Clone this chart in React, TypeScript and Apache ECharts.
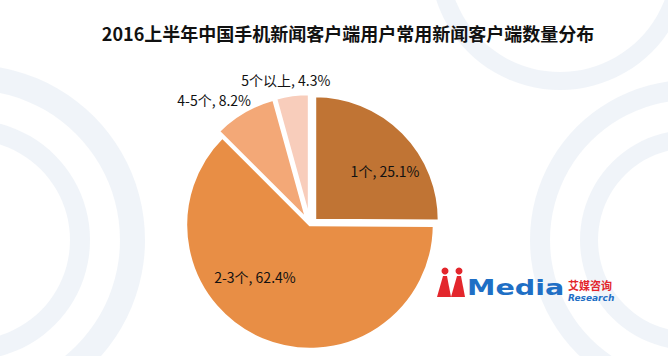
import React, { useEffect, useRef } from "react";
import * as echarts from "echarts";

const TITLE = "2016上半年中国手机新闻客户端用户常用新闻客户端数量分布";
const categories = ["1个", "2-3个", "4-5个", "5个以上"];
const values = [25.1, 62.4, 8.2, 4.3];
const colors = ["#C07434", "#E88E45", "#F3A877", "#F8CDBB"];
const exploded = [true, false, true, true];
const insideLabel = [true, true, false, false];
const labelShift: [number, number][] = [[24, -3], [-30, -8], [12, -12], [43, -15]];

export default function App() {
  const ref = useRef<HTMLDivElement>(null);
  useEffect(() => {
    if (!ref.current) return;
    const chart = echarts.init(ref.current, undefined, { renderer: "svg" });
    const ringColor = "rgba(226,234,243,0.5)";
    const rings = [
      { cx: -30, cy: 240, r: 175, r0: 150 },
      { cx: -30, cy: 240, r: 120, r0: 100 },
      { cx: 690, cy: 240, r: 160, r0: 140 },
      { cx: 690, cy: 240, r: 110, r0: 92 },
      { cx: 560, cy: -40, r: 130, r0: 112 },
    ];
    chart.setOption({
      animation: false,
      backgroundColor: "#ffffff",
      title: {
        text: TITLE,
        left: 343,
        top: 19,
        textAlign: "center",
        textStyle: {
          fontFamily: "Noto Sans CJK SC",
          fontWeight: "bold",
          fontSize: 18,
          color: "#111111",
        },
      },
      graphic: [
        ...rings.map((g) => ({
          type: "ring",
          z: -10,
          silent: true,
          shape: { cx: g.cx, cy: g.cy, r: g.r, r0: g.r0 },
          style: { fill: ringColor },
        })),
        // iMedia logo
        { type: "circle", z: 10, shape: { cx: 445, cy: 271, r: 3.5 }, style: { fill: "#E3262C" } },
        { type: "circle", z: 10, shape: { cx: 459, cy: 271, r: 3.5 }, style: { fill: "#E3262C" } },
        {
          type: "polygon",
          z: 10,
          shape: { points: [[443, 276], [447, 276], [451, 297], [437, 297]] },
          style: { fill: "#E3262C" },
        },
        {
          type: "polygon",
          z: 10,
          shape: { points: [[457, 276], [461, 276], [465, 297], [451, 297]] },
          style: { fill: "#E3262C" },
        },
        {
          type: "text",
          z: 10,
          x: 467,
          y: 298,
          scaleX: 1.3,
          style: {
            text: "Media",
            fontFamily: "DejaVu Sans",
            fontWeight: "bold",
            fontSize: 22,
            fill: "#1F6FC5",
            verticalAlign: "bottom",
          },
        },
        {
          type: "text",
          z: 10,
          x: 568,
          y: 279,
          style: {
            text: "艾媒咨询",
            fontFamily: "Noto Sans CJK SC",
            fontWeight: "bold",
            fontSize: 11,
            lineHeight: 11,
            fill: "#E3262C",
          },
        },
        {
          type: "text",
          z: 10,
          x: 568,
          y: 293,
          style: {
            text: "Research",
            fontFamily: "DejaVu Sans",
            fontStyle: "italic",
            fontWeight: "bold",
            fontSize: 9,
            lineHeight: 9,
            fill: "#1F6FC5",
          },
        },
      ],
      series: [
        {
          type: "pie",
          center: [310, 225],
          radius: 124,
          startAngle: 90,
          clockwise: true,
          selectedMode: "multiple",
          selectedOffset: 7,
          avoidLabelOverlap: false,
          itemStyle: { borderColor: "#ffffff", borderWidth: 2.5 },
          emphasis: { disabled: true },
          labelLine: { show: false, length: 0, length2: 0 },
          labelLayout: (p: any) => ({ dx: labelShift[p.dataIndex][0], dy: labelShift[p.dataIndex][1] }),
          data: categories.map((name, i) => ({
            name,
            value: values[i],
            selected: exploded[i],
            itemStyle: { color: colors[i] },
            select: { itemStyle: { color: colors[i], borderColor: "#ffffff", borderWidth: 2.5 } },
            label: {
              show: true,
              position: insideLabel[i] ? "inside" : "outside",
              formatter: `${name}, ${values[i]}%`,
              fontFamily: "Noto Sans CJK SC",
              fontSize: 14,
              color: "#111111",
            },
          })),
        },
      ],
    });
    return () => chart.dispose();
  }, []);
  return <div ref={ref} style={{ width: 668, height: 356, position: "absolute", left: 0, top: 0 }} />;
}
